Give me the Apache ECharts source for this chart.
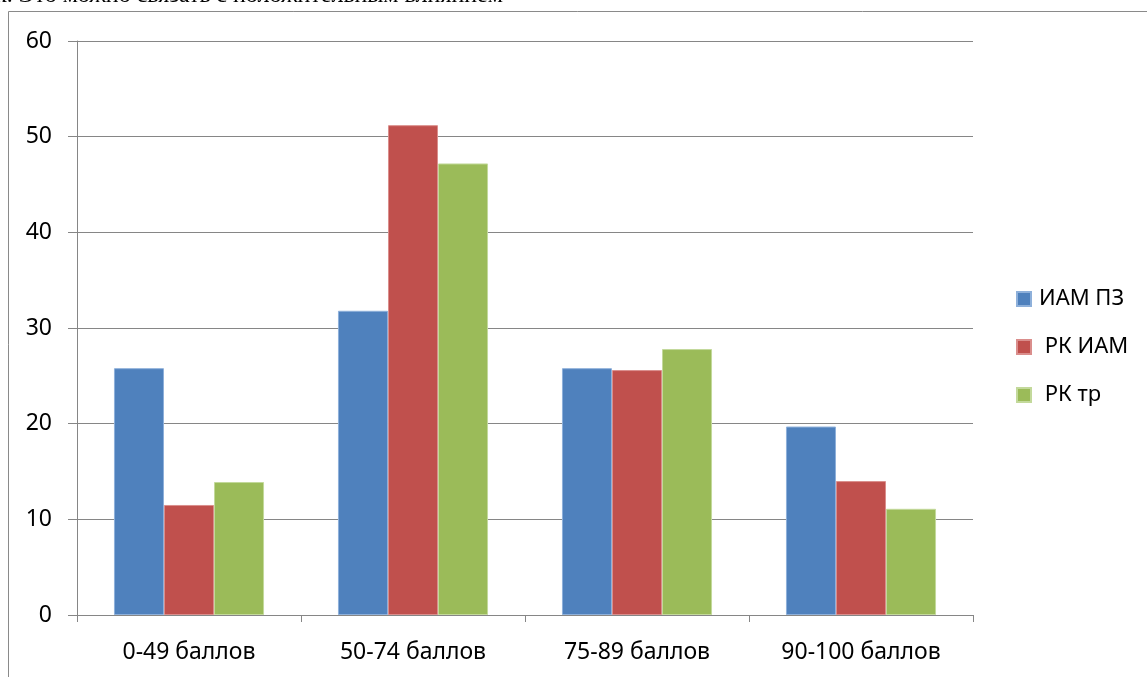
<!DOCTYPE html>
<html>
<head>
<meta charset="utf-8">
<script src="https://cdn.jsdelivr.net/npm/echarts@6/dist/echarts.min.js"></script>
<style>html,body{margin:0;padding:0;background:#fff;}#c{width:1147px;height:677px;}</style>
</head>
<body>
<div id="c"></div>
<script>
const categories = ['0-49 баллов', '50-74 баллов', '75-89 баллов', '90-100 баллов'];
const seriesNames = ['ИАМ ПЗ', ' РК ИАМ', ' РК тр'];
const iamPz = [25.8, 31.8, 25.8, 19.7];
const rkIam = [11.5, 51.2, 25.6, 14.0];
const rkTr = [13.9, 47.2, 27.8, 11.1];
const yTicks = [0, 10, 20, 30, 40, 50, 60];
const topText = 'к. Это можно связать с положительным влиянием';

const colors = ['#4F81BD', '#C0504D', '#9BBB59'];
const edge = ['#8EB0DA', '#DA8E8C', '#C3D99B'];
const font = 'Noto Sans';
const values = [iamPz, rkIam, rkTr];

const chart = echarts.init(document.getElementById('c'), null, {renderer: 'canvas'});
chart.setOption({
  animation: false,
  backgroundColor: '#ffffff',
  textStyle: {fontFamily: font},
  graphic: [
    {type: 'line', shape: {x1: 8.5, y1: 11.5, x2: 1147, y2: 11.5}, style: {stroke: '#8a8a8a', lineWidth: 1}},
    {type: 'line', shape: {x1: 8.5, y1: 11.5, x2: 8.5, y2: 677}, style: {stroke: '#8a8a8a', lineWidth: 1}},
    {type: 'text', left: -5, top: -16, style: {text: topText, font: '24px "Liberation Serif"', fill: '#000'}}
  ],
  grid: {left: 77, right: 174, top: 41, bottom: 62, containLabel: false},
  legend: {
    orient: 'vertical',
    left: 1016,
    top: 288,
    padding: 0,
    icon: 'rect',
    itemWidth: 14,
    itemHeight: 14,
    itemGap: 26,
    data: seriesNames,
    textStyle: {fontFamily: font, fontSize: 22, color: '#000', lineHeight: 22, padding: [0, 0, 0, 3]}
  },
  xAxis: {
    type: 'category',
    data: categories,
    axisLine: {lineStyle: {color: '#868686', width: 1}},
    axisTick: {show: true, length: 7, lineStyle: {color: '#868686'}},
    axisLabel: {fontFamily: font, fontSize: 23, color: '#000', margin: 26}
  },
  yAxis: {
    type: 'value',
    min: yTicks[0],
    max: yTicks[yTicks.length - 1],
    interval: 10,
    axisLine: {show: true, lineStyle: {color: '#868686', width: 1}},
    axisTick: {show: true, length: 9, lineStyle: {color: '#868686'}},
    splitLine: {show: true, lineStyle: {color: '#868686', width: 1}},
    axisLabel: {fontFamily: font, fontSize: 23, color: '#000', margin: 25}
  },
  series: seriesNames.map((n, i) => ({
    name: n,
    type: 'bar',
    data: values[i],
    barGap: '0%',
    barCategoryGap: '33%',
    itemStyle: {color: colors[i], borderColor: edge[i], borderWidth: 1}
  }))
});
</script>
</body>
</html>
